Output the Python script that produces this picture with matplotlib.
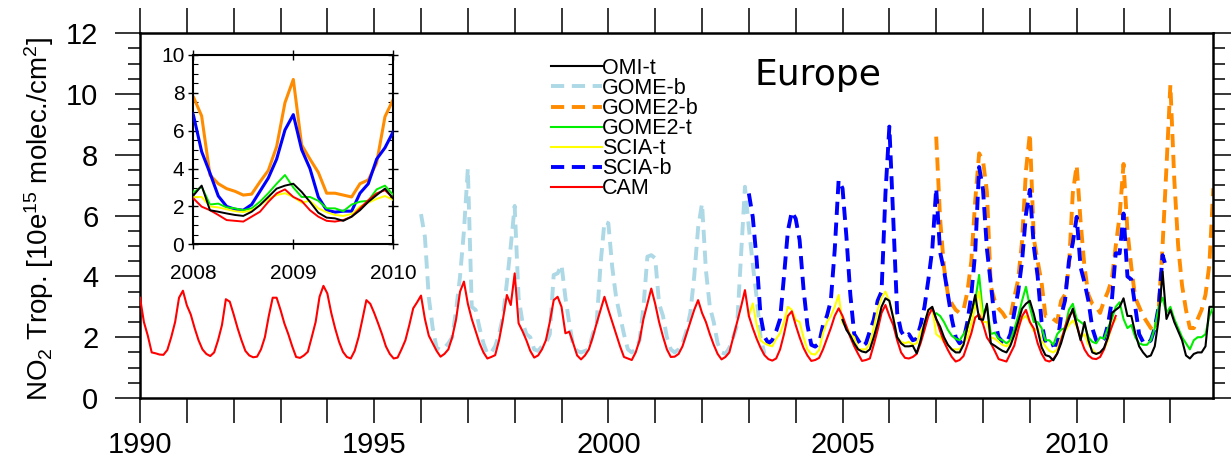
import numpy as np
import matplotlib
matplotlib.use('Agg')
import matplotlib.pyplot as plt
from matplotlib.ticker import MultipleLocator, FuncFormatter

plt.rcParams['font.family'] = ['Liberation Sans', 'DejaVu Sans']
plt.rcParams['mathtext.fontset'] = 'custom'
plt.rcParams['mathtext.rm'] = 'Liberation Sans'
plt.rcParams['mathtext.default'] = 'regular'
plt.rcParams['lines.scale_dashes'] = False

# monthly means, first value is January of the start year
cam_start = 1990
cam = [
    3.3, 2.5, 2.05, 1.5, 1.47, 1.43, 1.42, 1.58, 2.0, 2.5, 3.3, 3.53,
    3.05, 2.75, 2.3, 1.9, 1.6, 1.45, 1.38, 1.5, 1.9, 2.4, 3.25, 3.17,
    2.75, 2.3, 1.9, 1.55, 1.4, 1.34, 1.36, 1.6, 2.0, 2.7, 3.3, 3.3,
    2.9, 2.45, 2.1, 1.7, 1.35, 1.32, 1.4, 1.52, 2.0, 2.5, 3.33, 3.69,
    3.44, 2.8, 2.29, 1.85, 1.52, 1.35, 1.3, 1.55, 2.0, 2.6, 3.22, 3.1,
    2.8, 2.46, 2.1, 1.7, 1.45, 1.3, 1.33, 1.6, 1.9, 2.4, 2.95, 3.15,
    3.37, 2.6, 2.05, 1.8, 1.55, 1.36, 1.45, 1.6, 2.0, 2.6, 3.5, 3.83,
    3.1, 2.6, 2.2, 1.8, 1.5, 1.3, 1.35, 1.41, 1.9, 2.6, 3.39, 3.06,
    4.1, 2.46, 2.2, 1.9, 1.55, 1.33, 1.4, 1.6, 1.9, 2.5, 3.22, 3.33,
    3.0, 2.13, 2.18, 1.8, 1.4, 1.27, 1.4, 1.6, 2.0, 2.46, 2.9, 3.33,
    2.9, 2.5, 2.1, 1.7, 1.35, 1.3, 1.25, 1.5, 1.9, 2.6, 3.1, 3.6,
    3.1, 2.5, 2.02, 1.6, 1.35, 1.36, 1.45, 1.7, 2.1, 2.5, 2.9, 3.22,
    2.8, 2.5, 2.1, 1.75, 1.45, 1.27, 1.35, 1.5, 2.0, 2.5, 3.0, 3.55,
    2.7, 2.3, 1.95, 1.65, 1.41, 1.28, 1.23, 1.3, 1.6, 2.1, 2.7, 2.85,
    2.4, 2.0, 1.65, 1.4, 1.22, 1.25, 1.32, 1.6, 1.95, 2.3, 2.7, 2.95,
    2.7, 2.35, 2.0, 1.7, 1.45, 1.22, 1.25, 1.3, 1.75, 2.24, 2.8, 3.06,
    2.7, 2.4, 1.9, 1.5, 1.32, 1.3, 1.35, 1.45, 1.8, 2.24, 2.7, 2.95,
    2.6, 2.2, 1.85, 1.58, 1.35, 1.2, 1.25, 1.38, 1.75, 2.13, 2.65, 2.75,
    2.43, 1.99, 1.8, 1.55, 1.28, 1.24, 1.2, 1.46, 1.72, 2.24, 2.69, 2.9,
    2.5, 2.29, 1.8, 1.46, 1.24, 1.2, 1.28, 1.46, 1.9, 2.33, 2.69, 2.86,
    2.43, 1.95, 1.6, 1.4, 1.3, 1.28, 1.35, 1.6, 2.0, 2.35, 2.7,
]

gome_b_start = 1996
gome_b = [
    6.05, 5.3, 3.3, 2.3, 1.65, 1.58, 1.65, 1.8, 2.0, 2.9, 4.0, 5.5,
    7.55, 3.0, 2.9, 2.3, 1.8, 1.45, 1.5, 1.7, 2.1, 2.68, 3.8, 5.0,
    6.32, 3.3, 2.5, 2.1, 2.0, 1.6, 1.55, 1.7, 1.8, 2.1, 4.05, 4.1,
    4.38, 3.3, 2.45, 1.7, 1.55, 1.5, 1.55, 1.6, 2.1, 2.46, 4.4, 5.8,
    5.75, 4.3, 3.3, 2.7, 2.1, 1.6, 1.5, 1.6, 1.9, 3.0, 4.65, 4.7,
    4.6, 3.1, 2.7, 2.0, 1.6, 1.5, 1.6, 1.8, 2.2, 2.8, 4.0, 5.6,
    6.4, 4.2, 3.0, 2.5, 1.8, 1.5, 1.45, 1.65, 2.0, 2.4, 4.7, 6.95,
    5.6, 4.4, 3.3, 2.0, 1.45,
]

gome2_b_start = 2007
gome2_b = [
    8.6, 5.9, 4.3, 3.4, 3.1, 2.9, 2.8, 2.9, 3.5, 4.5, 6.5, 8.05,
    7.8, 6.78, 3.66, 3.2, 2.94, 2.8, 2.6, 2.65, 3.3, 3.9, 5.16, 7.48,
    8.71, 5.25, 4.5, 3.8, 2.7, 2.7, 2.6, 2.5, 3.2, 3.4, 4.3, 6.74,
    7.66, 5.8, 4.3, 3.4, 3.1, 3.0, 2.8, 3.2, 3.5, 3.9, 5.0, 6.0,
    7.7, 5.5, 4.3, 3.3, 3.0, 2.7, 2.5, 2.3, 2.2, 2.9, 5.0, 7.6,
    10.3, 7.2, 5.0, 3.7, 2.9, 2.3, 2.3, 2.6, 2.9, 3.4, 4.4, 6.9,
]

gome2_t_start = 2007
gome2_t = [
    2.79, 2.7, 2.5, 2.24, 2.05, 1.95, 1.9, 2.1, 2.3, 2.8, 3.2, 4.05,
    2.73, 3.05, 2.1, 2.15, 1.95, 1.9, 1.8, 1.9, 2.25, 2.7, 3.2, 3.66,
    3.0, 2.5, 2.5, 2.3, 1.9, 1.9, 1.75, 2.1, 2.25, 2.3, 2.9, 3.1,
    2.6, 2.5, 2.4, 2.0, 1.85, 1.8, 2.0, 1.95, 2.3, 2.6, 3.0, 3.15,
    2.6, 2.3, 2.4, 2.0, 1.8, 1.75, 1.75, 1.9, 2.3, 3.0, 3.3, 2.8,
    3.0, 2.6, 2.3, 2.0, 1.8, 1.6, 1.9, 2.0, 2.0, 2.1, 2.7, 3.0,
]

scia_t_start = 2003
scia_t = [
    2.7, 3.11, 2.4, 1.9, 1.8, 1.74, 1.7, 1.95, 2.13, 2.5, 3.0, 2.9,
    2.57, 2.5, 2.0, 1.6, 1.45, 1.43, 1.58, 2.13, 2.5, 2.7, 3.0, 3.39,
    2.46, 2.35, 2.1, 2.0, 1.6, 1.6, 1.6, 1.8, 2.3, 2.9, 3.3, 3.5,
    3.17, 2.68, 2.0, 1.85, 1.8, 1.85, 1.75, 1.8, 2.2, 2.46, 2.9, 2.95,
    2.1, 2.0, 1.85, 1.75, 1.6, 1.6, 1.6, 1.8, 2.0, 2.46, 3.0, 3.5,
    2.5, 2.5, 2.0, 1.95, 1.85, 1.75, 1.7, 1.8, 2.05, 2.4, 2.6, 2.7,
    2.5, 2.2, 2.3, 1.9, 1.7, 1.55, 1.5, 1.6, 2.0, 2.2, 2.4, 2.55,
    2.35, 2.0, 2.1, 1.75, 1.6, 1.45, 1.5, 1.6, 1.9, 2.4, 2.6,
]

scia_b_start = 2003
scia_b = [
    6.73, 5.96, 4.54, 2.7, 2.02, 1.8, 1.9, 2.2, 2.6, 4.0, 5.5, 6.13,
    5.9, 5.2, 3.6, 2.4, 1.75, 1.69, 1.8, 2.4, 2.7, 3.2, 4.87, 7.17,
    6.9, 5.3, 3.4, 2.1, 1.9, 1.69, 1.8, 2.2, 2.57, 3.2, 3.5, 6.73,
    8.93, 5.9, 2.8, 2.2, 2.0, 2.1, 1.9, 1.95, 2.4, 3.0, 3.9, 4.9,
    6.9, 4.8, 4.2, 3.4, 2.6, 2.0, 1.8, 1.9, 2.5, 3.4, 4.8, 7.6,
    6.85, 4.9, 3.76, 2.55, 2.0, 1.85, 1.8, 2.1, 2.8, 3.5, 4.5, 6.04,
    6.85, 5.0, 4.0, 2.5, 1.8, 1.7, 1.75, 1.75, 2.7, 3.2, 4.5, 5.1,
    5.96, 4.3, 3.8, 3.2, 2.3, 1.9, 1.8, 1.95, 2.4, 3.2, 4.76, 4.76,
    6.07, 4.0, 3.9, 3.0, 2.1, 1.85, 1.78, 1.9, 2.3, 3.0, 4.7, 4.27,
]

omi_t_start = 2005
omi_t = [
    2.57, 2.24, 2.05, 1.8, 1.6, 1.53, 1.5, 1.6, 2.0, 2.46, 3.0, 3.28,
    3.2, 2.63, 2.0, 1.8, 1.7, 1.7, 1.72, 1.47, 1.9, 2.46, 2.9, 3.0,
    2.6, 2.35, 2.0, 1.75, 1.6, 1.5, 1.5, 1.75, 2.35, 2.8, 3.39, 2.6,
    2.57, 3.1, 1.8, 1.72, 1.63, 1.55, 1.5, 1.72, 2.07, 2.5, 2.94, 3.1,
    3.2, 2.77, 2.24, 1.67, 1.41, 1.37, 1.24, 1.46, 1.8, 2.24, 2.6, 2.94,
    2.4, 1.9, 2.5, 1.9, 1.5, 1.45, 1.5, 1.65, 2.0, 2.8, 2.9, 3.0,
    3.28, 2.7, 2.7, 2.13, 1.7, 1.5, 1.35, 1.4, 1.7, 2.6, 4.16, 2.6,
    2.9, 2.5, 2.2, 1.9, 1.4, 1.3, 1.45, 1.5, 1.5, 1.7, 3.0, 3.0,
]

# (label, start year, values, colour, linewidth main, dashed)
series = [
    ('OMI-t', omi_t_start, omi_t, 'black', 1.5, False),
    ('GOME-b', gome_b_start, gome_b, '#add8e6', 2.8, True),
    ('GOME2-b', gome2_b_start, gome2_b, '#ff8c00', 2.8, True),
    ('GOME2-t', gome2_t_start, gome2_t, '#00ee00', 1.5, False),
    ('SCIA-t', scia_t_start, scia_t, '#ffff00', 1.5, False),
    ('SCIA-b', scia_b_start, scia_b, '#0000ff', 2.8, True),
    ('CAM', cam_start, cam, '#ff0000', 1.5, False),
]
draw_order = {'GOME-b': 1, 'GOME2-b': 2, 'SCIA-b': 3, 'GOME2-t': 4,
              'SCIA-t': 5, 'CAM': 6, 'OMI-t': 7}


def months(start, values):
    return start + np.arange(len(values)) / 12.0


fig = plt.figure(figsize=(12.31, 4.68), dpi=100)
ax = fig.add_axes([140 / 1231, 70 / 468, 1073.3 / 1231, 364.7 / 468])

for label, start, vals, color, lw, dashed in series:
    ax.plot(months(start, vals), vals, color=color, lw=lw, label=label,
            dashes=(9.5, 5.5) if dashed else (None, None),
            zorder=draw_order[label])

ax.set_xlim(1990, 1990 + 275 / 12)
ax.set_ylim(0, 12)
ax.xaxis.set_major_locator(MultipleLocator(1))
ax.xaxis.set_major_formatter(FuncFormatter(
    lambda v, p: str(int(round(v))) if int(round(v)) % 5 == 0 else ''))
ax.yaxis.set_major_locator(MultipleLocator(2))
ax.yaxis.set_minor_locator(MultipleLocator(0.5))
ax.tick_params(which='major', direction='out', length=18, width=1.1,
               labelsize=21, top=True, right=True)
ax.tick_params(axis='y', which='minor', direction='out', length=8.5,
               width=1.1, right=True)
ax.tick_params(axis='y', pad=12)
ax.tick_params(axis='x', pad=6)
for s in ax.spines.values():
    s.set_linewidth(1.8)

ax.set_ylabel(r'NO$_2$ Trop. [10e$^{15}$ molec./cm$^2$]', fontsize=20)
ax.yaxis.set_label_coords(-0.078, 0.49)

ax.text(0.632, 0.887, 'Europe', transform=ax.transAxes, fontsize=26,
        family='DejaVu Sans', ha='center', va='center')

leg = ax.legend(loc='upper left', bbox_to_anchor=(550.7 / 1231, 410 / 468),
                bbox_transform=fig.transFigure, frameon=False, fontsize=15.5,
                handlelength=2.4, handletextpad=0.0, labelspacing=-0.045,
                borderpad=0, borderaxespad=0)

# inset zoom 2008-2010
ins = fig.add_axes([193.3 / 1231, 223.7 / 468, 200 / 1231, 189.3 / 468])
for label, start, vals, color, lw, dashed in series:
    ins.plot(months(start, vals), vals, color=color,
             lw=2.2 if dashed else 1.4, zorder=draw_order[label])
ins.set_xlim(2008, 2010)
ins.set_ylim(0, 10)
ins.xaxis.set_major_locator(MultipleLocator(1))
ins.yaxis.set_major_locator(MultipleLocator(2))
ins.yaxis.set_minor_locator(MultipleLocator(0.5))
ins.tick_params(which='major', direction='inout', length=7, width=1.0,
                labelsize=15, top=True, right=True)
ins.tick_params(axis='y', which='minor', direction='in', length=3.5,
                width=0.8, right=True)
ins.tick_params(axis='x', pad=11)
ins.tick_params(axis='y', pad=3)
for s in ins.spines.values():
    s.set_linewidth(1.5)

fig.savefig('out.png', dpi=100)
